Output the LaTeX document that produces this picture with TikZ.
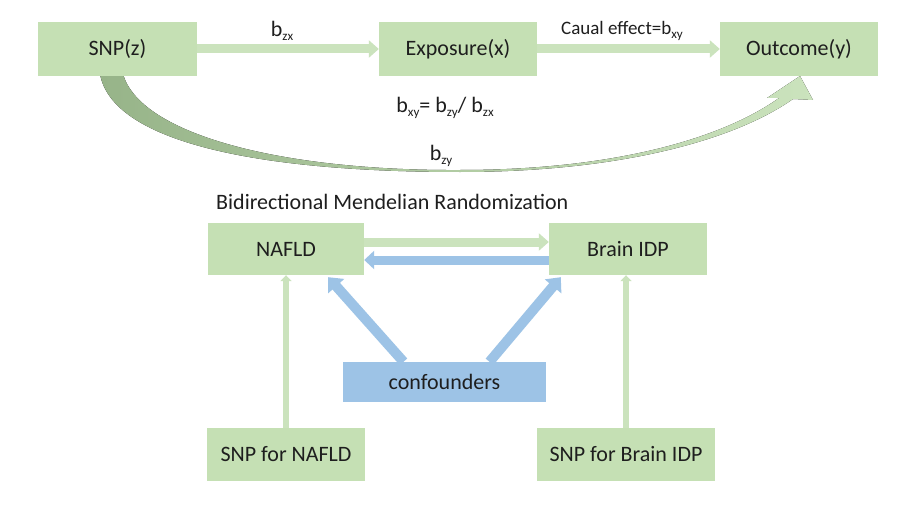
\documentclass[tikz,border=0pt]{standalone}
\usepackage{fontspec}
\setmainfont{Carlito}
\usetikzlibrary{arrows.meta,calc}
\definecolor{boxgreen}{HTML}{C5E0B4}
\definecolor{arrowgreen}{HTML}{CBE3BD}
\definecolor{curvedark}{HTML}{97B489}
\definecolor{boxblue}{HTML}{9DC3E6}
\definecolor{txt}{HTML}{1E1E1E}
\newcommand\sbs[1]{\raisebox{-4pt}{\fontsize{13}{13}\selectfont #1}}
\begin{document}
\begin{tikzpicture}[x=1pt,y=-1pt,
  box/.style={fill=boxgreen, minimum height=54pt, inner sep=0pt, text=txt, font=\fontsize{22}{22}\selectfont},
  bbox/.style={box, fill=boxblue},
  lbl/.style={text=txt, inner sep=0pt, font=\fontsize{22}{22}\selectfont},
  garrow/.style={draw=arrowgreen, line width=9pt, -{Triangle[width=17pt,length=10pt]}},
  barrow/.style={draw=boxblue, line width=9pt, -{Triangle[width=18pt,length=10pt]}},
  bdiag/.style={draw=boxblue, line width=10pt, -{Triangle[width=21pt,length=12pt]}},
  gvert/.style={draw=arrowgreen, line width=6pt, -{Triangle[width=11pt,length=6pt]}}]
\useasboundingbox[fill=white] (0,0) rectangle (907,516);
% curved arrow
\fill[left color=curvedark, middle color=curvedark!55!arrowgreen, right color=arrowgreen]
  (100,74) .. controls (112,140) and (250,172) .. (460,172)
  .. controls (620,172) and (735,140) .. (793,99)
  -- (813,100) -- (800,76) -- (767,98) -- (779,98)
  .. controls (720,140) and (610,170) .. (460,170)
  .. controls (280,171) and (140,134) .. (123,74) -- cycle;
% boxes
\node[box, minimum width=159pt] (snp) at (117.5,49) {SNP(z)};
\node[box, minimum width=158pt] (exp) at (458,49) {Exposure(x)};
\node[box, minimum width=158pt] (out) at (799,49) {Outcome(y)};
\node[box, minimum width=156pt, minimum height=52pt] (nafld) at (286,249) {NAFLD};
\node[box, minimum width=158pt, minimum height=52pt] (brain) at (628,249) {Brain IDP};
\node[bbox, minimum width=203pt, minimum height=40pt] (conf) at (444.5,382) {confounders};
\node[box, minimum width=158pt, minimum height=53pt] (snpn) at (286,454.5) {SNP for NAFLD};
\node[box, minimum width=178pt, minimum height=53pt] (snpb) at (626,454.5) {SNP for Brain IDP};
% labels
\node[lbl] (lzx) at (282,31) {b\sbs{zx}};
\node[lbl, font=\fontsize{19}{19}\selectfont] (lce) at (622,31) {Caual effect=b\sbs{xy}};
\node[lbl] (lform) at (445,108) {b\sbs{xy}= b\sbs{zy}/ b\sbs{zx}};
\node[lbl] (lzy) at (441,156) {b\sbs{zy}};
\node[lbl, anchor=west] (title) at (216,202) {Bidirectional Mendelian Randomization};
% arrows
\draw[garrow] (snp.east) -- (exp.west);
\draw[garrow] (exp.east) -- (out.west);
\draw[garrow] ([yshift=7pt]nafld.east) -- ([yshift=7pt]brain.west);
\draw[barrow] ([yshift=-11pt]brain.west) -- ([yshift=-11pt]nafld.east);
\draw[bdiag] ([xshift=-41pt]conf.north) -- ([xshift=-36pt,yshift=-2pt]nafld.south east);
\draw[bdiag] ([xshift=45pt]conf.north) -- ([xshift=12pt,yshift=-2pt]brain.south west);
\draw[gvert] (snpn.north) -- (nafld.south);
\draw[gvert] (snpb.north) -- (snpb.north |- brain.south);
\end{tikzpicture}
\end{document}
